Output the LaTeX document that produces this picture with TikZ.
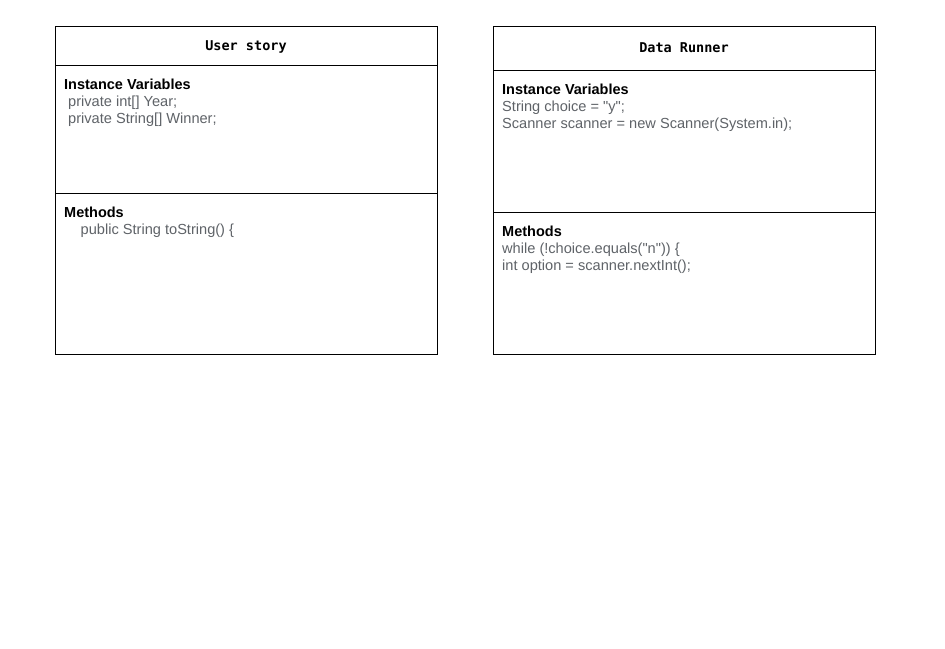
\documentclass[tikz,border=0pt]{standalone}
\usepackage{fontspec}
\setmainfont{Liberation Sans}[Ligatures=TeXOff]
\newfontfamily\titlemono{DejaVu Sans Mono}
\definecolor{codegray}{HTML}{5F6368}
\tikzset{
  comp/.style={draw=black, line width=1pt, anchor=north west, inner sep=0pt, minimum width=382pt},
  ttl/.style={anchor=base, inner sep=0pt, font=\titlemono\bfseries\fontsize{13.5}{15}\selectfont},
  head/.style={anchor=base west, inner sep=0pt, font=\bfseries\fontsize{14.5}{17}\selectfont},
  code/.style={anchor=base west, inner sep=0pt, text=codegray, font=\fontsize{14.6}{17}\selectfont},
}
\begin{document}
\begin{tikzpicture}[x=1pt, y=-1pt]
\useasboundingbox[fill=white] (0,0) rectangle (945,648);
% left class
\node[comp, minimum height=39pt] (utitle) at (55,26) {};
\node[comp, minimum height=128pt] (uvars) at (55,65) {};
\node[comp, minimum height=161pt] (umeth) at (55,193) {};
\node[ttl] (utitletxt) at (246,50.5) {User story};
\node[head] (uvh) at (64,89) {Instance Variables};
\node[code] (uv1) at (68,106) {private int[] Year;};
\node[code] (uv2) at (68,123) {private String[] Winner;};
\node[head] (umh) at (64,217) {Methods};
\node[code] (um1) at (80.5,234) {public String toString() \{};
% right class
\node[comp, minimum height=44pt] (dtitle) at (493,26) {};
\node[comp, minimum height=142pt] (dvars) at (493,70) {};
\node[comp, minimum height=142pt] (dmeth) at (493,212) {};
\node[ttl] (dtitletxt) at (684,52.5) {Data Runner};
\node[head] (dvh) at (502,94) {Instance Variables};
\node[code] (dv1) at (502,111) {String choice = "y";};
\node[code] (dv2) at (502,128) {Scanner scanner = new Scanner(System.in);};
\node[head] (dmh) at (502,236) {Methods};
\node[code] (dm1) at (502,253) {while (!choice.equals("n")) \{};
\node[code] (dm2) at (502,270) {int option = scanner.nextInt();};
\end{tikzpicture}
\end{document}
